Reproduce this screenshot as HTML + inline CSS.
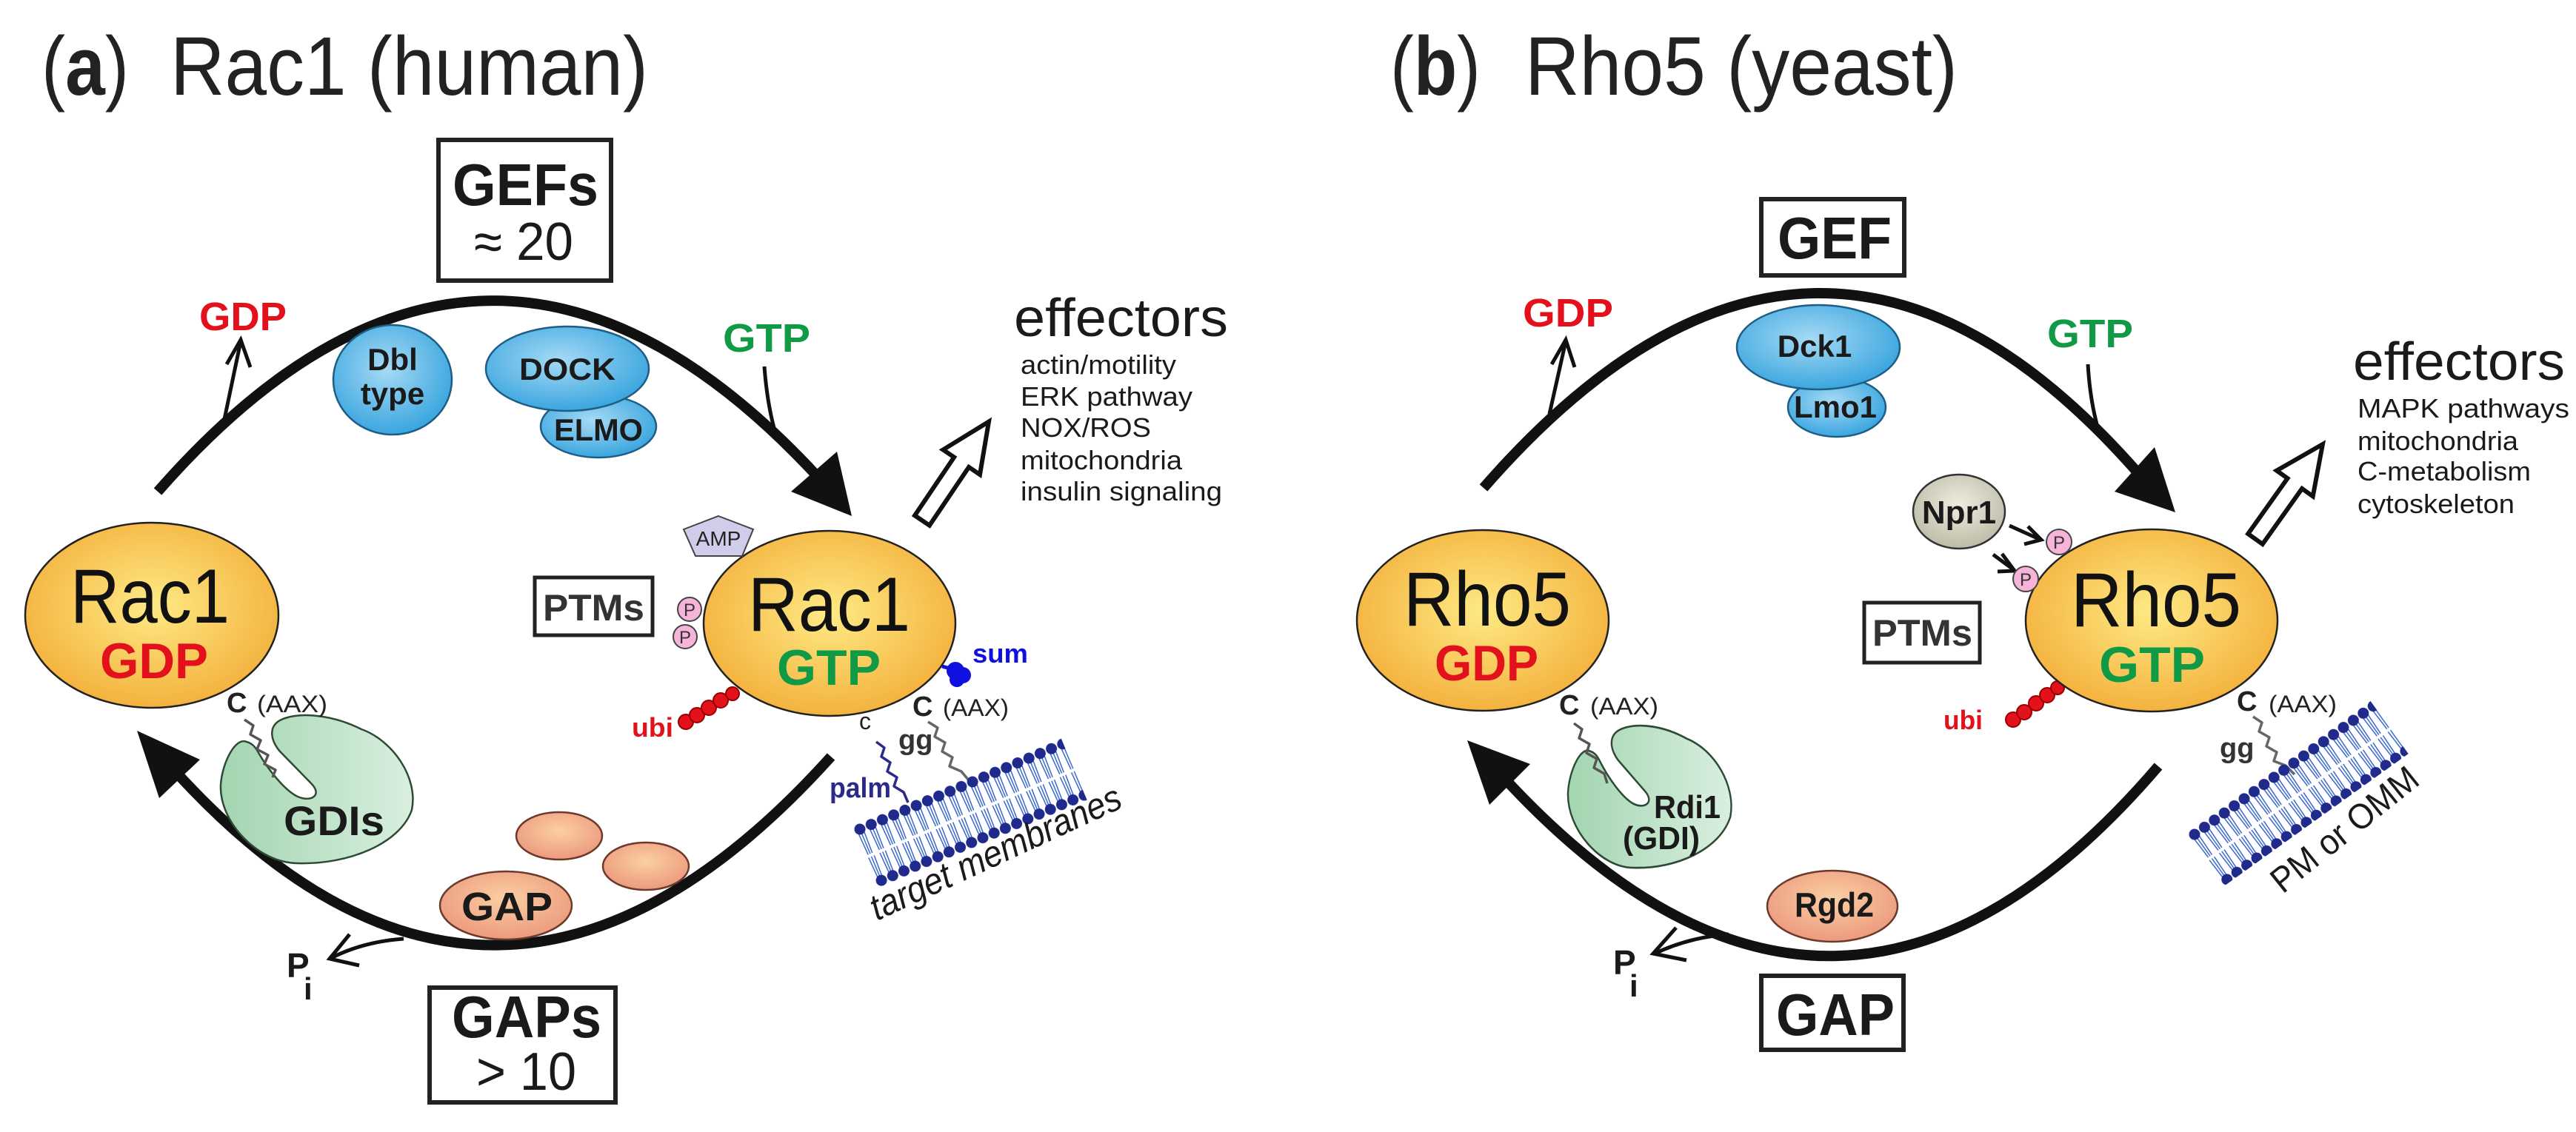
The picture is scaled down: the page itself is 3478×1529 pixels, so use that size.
<!DOCTYPE html>
<html><head><meta charset="utf-8"><style>
html,body{margin:0;padding:0;background:#fff;}
svg{display:block;font-family:"Liberation Sans",Arial,sans-serif;}
</style></head><body>
<svg width="3478" height="1529" viewBox="0 0 3478 1529" xmlns="http://www.w3.org/2000/svg">
<defs>
<radialGradient id="gy" cx="50%" cy="45%" r="55%"><stop offset="0" stop-color="#feea85"/><stop offset="1" stop-color="#f4b23e"/></radialGradient>
<radialGradient id="gb" cx="45%" cy="40%" r="60%"><stop offset="0" stop-color="#a6daf5"/><stop offset="1" stop-color="#3ba6df"/></radialGradient>
<linearGradient id="gg" x1="0" y1="0" x2="1" y2="0"><stop offset="0" stop-color="#a3d5b0"/><stop offset="1" stop-color="#d9efdf"/></linearGradient>
<radialGradient id="gs" cx="50%" cy="40%" r="60%"><stop offset="0" stop-color="#fbcfa4"/><stop offset="1" stop-color="#ec9a7d"/></radialGradient>
<radialGradient id="gn" cx="50%" cy="40%" r="60%"><stop offset="0" stop-color="#eeecdf"/><stop offset="1" stop-color="#bdbca8"/></radialGradient>
<pattern id="mem" patternUnits="userSpaceOnUse" x="-8" y="-8" width="16.5" height="91">
<g stroke="#2b5cc4" stroke-width="1.4" fill="none">
<line x1="4" y1="14" x2="5" y2="44"/><line x1="8" y1="14" x2="8" y2="44"/><line x1="12" y1="14" x2="11" y2="44"/>
<line x1="4" y1="48" x2="5" y2="77"/><line x1="8" y1="48" x2="8" y2="77"/><line x1="12" y1="48" x2="11" y2="77"/>
</g>
<circle cx="8" cy="8" r="7.5" fill="#1f2a8c"/>
<circle cx="8" cy="83" r="7.5" fill="#1f2a8c"/>
</pattern>
</defs>

<!-- Titles -->
<text x="56" y="128" font-size="112" fill="#222" textLength="118" lengthAdjust="spacingAndGlyphs">(<tspan font-weight="bold">a</tspan>)</text>
<text x="230" y="128" font-size="112" fill="#222" textLength="645" lengthAdjust="spacingAndGlyphs">Rac1 (human)</text>
<text x="1877" y="128" font-size="112" fill="#222" textLength="122" lengthAdjust="spacingAndGlyphs">(<tspan font-weight="bold">b</tspan>)</text>
<text x="2059" y="128" font-size="112" fill="#222" textLength="584" lengthAdjust="spacingAndGlyphs">Rho5 (yeast)</text>

<!-- Boxes -->
<g fill="none" stroke="#222" stroke-width="6">
<rect x="592" y="189" width="233" height="190"/>
<rect x="2378" y="269" width="193" height="103"/>
<rect x="580" y="1334" width="251" height="155"/>
<rect x="2378" y="1318" width="192" height="100"/>
<rect x="722" y="780" width="159" height="78" stroke-width="5"/>
<rect x="2517" y="814" width="156" height="81" stroke-width="5"/>
</g>
<g font-weight="bold" fill="#1a1a1a">
<text x="611" y="277" font-size="80" textLength="197" lengthAdjust="spacingAndGlyphs">GEFs</text>
<text x="2400" y="349" font-size="80" textLength="154" lengthAdjust="spacingAndGlyphs">GEF</text>
<text x="610" y="1401" font-size="80" textLength="202" lengthAdjust="spacingAndGlyphs">GAPs</text>
<text x="2398" y="1398" font-size="80" textLength="160" lengthAdjust="spacingAndGlyphs">GAP</text>
<text x="733" y="838" font-size="50" fill="#333" textLength="137" lengthAdjust="spacingAndGlyphs">PTMs</text>
<text x="2528" y="872" font-size="50" fill="#333" textLength="135" lengthAdjust="spacingAndGlyphs">PTMs</text>
</g>
<text x="640" y="351" font-size="72" fill="#1a1a1a" textLength="134" lengthAdjust="spacingAndGlyphs">≈ 20</text>
<text x="643" y="1472" font-size="72" fill="#1a1a1a" textLength="135" lengthAdjust="spacingAndGlyphs">&gt; 10</text>

<!-- Arcs -->
<g fill="none" stroke="#111" stroke-width="14">
<path d="M213,664 Q656,158 1105,645"/>
<path d="M2003,659 Q2455,140 2892,645"/>
<path d="M1122,1022 Q672,1522 235,1040"/>
<path d="M2914,1035 Q2482,1540 2030,1050"/>
</g>
<g fill="#111">
<polygon points="1150,697 1068,664 1130,610"/>
<polygon points="2937,692 2855,664 2909,604"/>
<polygon points="185,987 270,1026 215,1078"/>
<polygon points="1981,1000 2066,1032 2011,1087"/>
</g>

<!-- small arrows -->
<g fill="none" stroke="#111" stroke-width="5" stroke-linejoin="miter">
<path d="M303,566 L325,461"/><path d="M306,492 L325,459 L338,496"/>
<path d="M2092,559 L2114,461"/><path d="M2095,492 L2114,459 L2126,496"/>
<path d="M1032,495 Q1036,550 1049,592"/>
<path d="M2819,492 Q2822,545 2835,587"/>
<path d="M545,1268 Q490,1272 447,1294"/><path d="M472,1262 L445,1295 L485,1304"/>
<path d="M2334,1262 Q2280,1266 2234,1288"/><path d="M2263,1253 L2232,1288 L2277,1297"/>
<path d="M2713,710 L2753,728"/><path d="M2738,711 L2756,729 L2733,735"/>
<path d="M2691,749 L2718,769"/><path d="M2703,748 L2720,771 L2697,772"/>
</g>

<!-- GDP/GTP labels -->
<g font-weight="bold" font-size="54">
<text x="269" y="446" fill="#e3111b" textLength="118" lengthAdjust="spacingAndGlyphs">GDP</text>
<text x="2056" y="441" fill="#e3111b" textLength="122" lengthAdjust="spacingAndGlyphs">GDP</text>
<text x="976" y="475" fill="#109a45" textLength="118" lengthAdjust="spacingAndGlyphs">GTP</text>
<text x="2764" y="469" fill="#109a45" textLength="116" lengthAdjust="spacingAndGlyphs">GTP</text>
</g>

<!-- GEF ellipses -->
<g stroke="#1e5e86" stroke-width="2.5" fill="url(#gb)">
<ellipse cx="530" cy="513" rx="80" ry="74"/>
<ellipse cx="808" cy="576" rx="78" ry="42"/>
<ellipse cx="766" cy="498" rx="110" ry="57"/>
<ellipse cx="2480" cy="550" rx="66" ry="40"/>
<ellipse cx="2455" cy="469" rx="110" ry="57"/>
</g>
<g font-weight="bold" font-size="42" fill="#1a1a1a" text-anchor="middle">
<text x="530" y="500">Dbl</text><text x="530" y="546">type</text>
<text x="766" y="513" textLength="130" lengthAdjust="spacingAndGlyphs">DOCK</text>
<text x="808" y="595" textLength="120" lengthAdjust="spacingAndGlyphs">ELMO</text>
<text x="2450" y="482">Dck1</text>
<text x="2478" y="564">Lmo1</text>
</g>

<!-- effectors -->
<text x="1369" y="454" font-size="72" fill="#1a1a1a" textLength="289" lengthAdjust="spacingAndGlyphs">effectors</text>
<g font-size="36" fill="#1a1a1a">
<text x="1378" y="505" textLength="210" lengthAdjust="spacingAndGlyphs">actin/motility</text>
<text x="1378" y="548" textLength="232" lengthAdjust="spacingAndGlyphs">ERK pathway</text>
<text x="1378" y="590" textLength="176" lengthAdjust="spacingAndGlyphs">NOX/ROS</text>
<text x="1378" y="634" textLength="218" lengthAdjust="spacingAndGlyphs">mitochondria</text>
<text x="1378" y="676" textLength="272" lengthAdjust="spacingAndGlyphs">insulin signaling</text>
</g>
<text x="3177" y="513" font-size="72" fill="#1a1a1a" textLength="286" lengthAdjust="spacingAndGlyphs">effectors</text>
<g font-size="36" fill="#1a1a1a">
<text x="3183" y="564" textLength="286" lengthAdjust="spacingAndGlyphs">MAPK pathways</text>
<text x="3183" y="608" textLength="217" lengthAdjust="spacingAndGlyphs">mitochondria</text>
<text x="3183" y="649" textLength="234" lengthAdjust="spacingAndGlyphs">C-metabolism</text>
<text x="3183" y="693" textLength="212" lengthAdjust="spacingAndGlyphs">cytoskeleton</text>
</g>
<g fill="#fff" stroke="#111" stroke-width="6" stroke-linejoin="miter">
<polygon transform="translate(1245,703) rotate(-56)" points="0,-12 95,-12 95,-30 161,0 95,30 95,12 0,12"/>
<polygon transform="translate(3045,728) rotate(-54.6)" points="0,-12 92,-12 92,-30 157,0 92,30 92,12 0,12"/>
</g>

<!-- GDI shapes -->
<path d="M333,1002 C318,995 300,1030 298,1060 C296,1112 350,1166 402,1166 C470,1168 540,1140 556,1094 C565,1050 530,1000 488,985 C450,966 410,962 385,970 C360,978 365,1000 378,1015 L420,1058 C436,1074 420,1084 402,1076 C385,1068 362,1040 348,1015 C344,1008 340,1004 333,1002 Z" fill="url(#gg)" stroke="#2e4a35" stroke-width="2.5"/>
<path transform="translate(2117,981) scale(0.85,0.96) translate(-298,-967)" d="M333,1002 C318,995 300,1030 298,1060 C296,1112 350,1166 402,1166 C470,1168 540,1140 556,1094 C565,1050 530,1000 488,985 C450,966 410,962 385,970 C360,978 365,1000 378,1015 L420,1058 C436,1074 420,1084 402,1076 C385,1068 362,1040 348,1015 C344,1008 340,1004 333,1002 Z" fill="url(#gg)" stroke="#2e4a35" stroke-width="2.8"/>
<g font-weight="bold" fill="#1a1a1a">
<text x="383" y="1128" font-size="56" textLength="136" lengthAdjust="spacingAndGlyphs">GDIs</text>
<text x="2233" y="1105" font-size="44" textLength="90" lengthAdjust="spacingAndGlyphs">Rdi1</text>
<text x="2191" y="1147" font-size="44" textLength="104" lengthAdjust="spacingAndGlyphs">(GDI)</text>
</g>

<!-- wiggles -->
<g fill="none" stroke-width="3.5" stroke-linejoin="round">
<polyline stroke="#555" points="330,972 342,980 338,992 352,1000 347,1012 362,1020 357,1032 372,1040 368,1050"/>
<polyline stroke="#555" points="2125,977 2136,985 2132,997 2146,1005 2142,1017 2156,1025 2152,1037 2166,1045 2170,1058"/>
<polyline stroke="#2a2a8a" points="1183,1002 1194,1010 1190,1022 1202,1030 1198,1042 1211,1050 1207,1062 1220,1070 1226,1084"/>
<polyline stroke="#666" points="1253,975 1266,983 1262,995 1276,1003 1272,1015 1286,1023 1282,1035 1298,1042 1308,1054"/>
<polyline stroke="#666" points="3042,968 3054,976 3050,988 3064,996 3060,1008 3074,1016 3070,1028 3086,1034 3098,1046"/>
</g>

<!-- membranes -->
<g transform="translate(1161,1120) rotate(-22.8)"><rect x="-8" y="-8" width="306" height="91" fill="url(#mem)"/></g>
<g transform="translate(2963,1127) rotate(-35.7)"><rect x="-8" y="-8" width="306" height="88" fill="url(#mem)"/></g>
<text transform="translate(1184,1244) rotate(-24.8)" font-size="50" font-style="italic" fill="#1a1a1a" textLength="368" lengthAdjust="spacingAndGlyphs">target membranes</text>
<text transform="translate(3082,1208) rotate(-38.7)" font-size="48" fill="#1a1a1a" textLength="240" lengthAdjust="spacingAndGlyphs">PM or OMM</text>

<!-- GAP / Rgd2 -->
<g stroke="#6b3a2a" stroke-width="2.5" fill="url(#gs)">
<ellipse cx="755" cy="1129" rx="58" ry="32"/>
<ellipse cx="872" cy="1170" rx="58" ry="32"/>
<ellipse cx="683" cy="1223" rx="89" ry="46"/>
<ellipse cx="2474" cy="1224" rx="88" ry="48"/>
</g>
<g font-weight="bold" fill="#1a1a1a">
<text x="623" y="1243" font-size="54" textLength="123" lengthAdjust="spacingAndGlyphs">GAP</text>
<text x="2423" y="1238" font-size="46" textLength="107" lengthAdjust="spacingAndGlyphs">Rgd2</text>
<text x="387" y="1320" font-size="46">P</text><text x="410" y="1350" font-size="42">i</text>
<text x="2178" y="1316" font-size="46">P</text><text x="2200" y="1346" font-size="42">i</text>
</g>

<!-- ubi / sum blobs -->
<g fill="#e3111b" stroke="#900" stroke-width="2">
<circle cx="926" cy="975" r="10"/><circle cx="941" cy="966" r="10"/><circle cx="957" cy="956" r="10"/><circle cx="973" cy="946" r="10"/><circle cx="989" cy="937" r="9"/>
<circle cx="2718" cy="972" r="10"/><circle cx="2733" cy="962" r="10"/><circle cx="2749" cy="950" r="10"/><circle cx="2764" cy="939" r="10"/><circle cx="2778" cy="929" r="9"/>
</g>
<line x1="1272" y1="900" x2="1290" y2="905" stroke="#1010e0" stroke-width="5"/>
<g fill="#1010e0"><circle cx="1290" cy="906" r="12"/><circle cx="1300" cy="912" r="11"/><circle cx="1292" cy="918" r="10"/></g>
<g font-weight="bold" font-size="36">
<text x="853" y="995" fill="#e3111b" textLength="56" lengthAdjust="spacingAndGlyphs">ubi</text>
<text x="2624" y="985" fill="#e3111b" textLength="53" lengthAdjust="spacingAndGlyphs">ubi</text>
<text x="1313" y="895" fill="#1010e0" textLength="75" lengthAdjust="spacingAndGlyphs">sum</text>
</g>

<!-- main ellipses -->
<g stroke="#222" stroke-width="2.5" fill="url(#gy)">
<ellipse cx="205" cy="831" rx="171" ry="125"/>
<ellipse cx="1120" cy="842" rx="170" ry="125"/>
<ellipse cx="2002" cy="838" rx="170" ry="122"/>
<ellipse cx="2905" cy="838" rx="170" ry="123"/>
</g>
<g font-size="104" fill="#111">
<text x="95" y="841" textLength="215" lengthAdjust="spacingAndGlyphs">Rac1</text>
<text x="1010" y="852" textLength="219" lengthAdjust="spacingAndGlyphs">Rac1</text>
<text x="1895" y="845" textLength="226" lengthAdjust="spacingAndGlyphs">Rho5</text>
<text x="2796" y="846" textLength="230" lengthAdjust="spacingAndGlyphs">Rho5</text>
</g>
<g font-size="68" font-weight="bold">
<text x="135" y="916" fill="#e3111b" textLength="146" lengthAdjust="spacingAndGlyphs">GDP</text>
<text x="1049" y="925" fill="#109a45" textLength="140" lengthAdjust="spacingAndGlyphs">GTP</text>
<text x="1937" y="919" fill="#e3111b" textLength="140" lengthAdjust="spacingAndGlyphs">GDP</text>
<text x="2834" y="921" fill="#109a45" textLength="143" lengthAdjust="spacingAndGlyphs">GTP</text>
</g>

<!-- C (AAX) labels -->
<g fill="#222">
<text x="306" y="962" font-size="38" font-weight="bold">C</text><text x="347" y="962" font-size="32" textLength="95" lengthAdjust="spacingAndGlyphs">(AAX)</text>
<text x="2105" y="965" font-size="38" font-weight="bold">C</text><text x="2147" y="965" font-size="32" textLength="92" lengthAdjust="spacingAndGlyphs">(AAX)</text>
<text x="1232" y="967" font-size="38" font-weight="bold">C</text><text x="1273" y="967" font-size="32" textLength="89" lengthAdjust="spacingAndGlyphs">(AAX)</text>
<text x="3020" y="960" font-size="38" font-weight="bold">C</text><text x="3063" y="962" font-size="32" textLength="92" lengthAdjust="spacingAndGlyphs">(AAX)</text>
<text x="1160" y="985" font-size="32">c</text>
<text x="1213" y="1012" font-size="38" font-weight="bold" fill="#333">gg</text>
<text x="2997" y="1023" font-size="38" font-weight="bold" fill="#333">gg</text>
<text x="1120" y="1077" font-size="38" font-weight="bold" fill="#2a2a8a" textLength="83" lengthAdjust="spacingAndGlyphs">palm</text>
</g>

<!-- PTM decorations -->
<polygon points="970,697 1017,715 1002,751 939,751 923,715" fill="#cfcdea" stroke="#444" stroke-width="2"/>
<text x="970" y="737" font-size="28" text-anchor="middle" fill="#222">AMP</text>
<g fill="#f6b5d8" stroke="#444" stroke-width="2">
<circle cx="931" cy="823" r="16"/><circle cx="925" cy="860" r="16"/>
<circle cx="2780" cy="732" r="17"/><circle cx="2735" cy="782" r="17"/>
</g>
<g font-size="24" fill="#333" text-anchor="middle">
<text x="931" y="832">P</text><text x="925" y="869">P</text>
<text x="2780" y="741">P</text><text x="2735" y="791">P</text>
</g>
<ellipse cx="2645" cy="691" rx="62" ry="50" fill="url(#gn)" stroke="#333" stroke-width="2.5"/>
<text x="2645" y="707" font-size="44" font-weight="bold" text-anchor="middle" fill="#1a1a1a">Npr1</text>
</svg>
</body></html>
